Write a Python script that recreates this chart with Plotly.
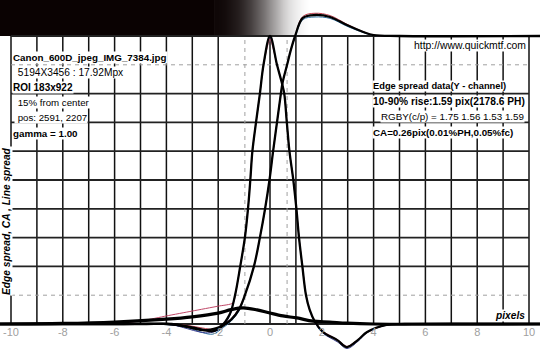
import plotly.graph_objects as go

# ---------------- data ----------------
# Edge spread function (Y channel)
esf_x = [-10.5, -6.0, -4.0, -3.2, -2.6, -2.2, -1.8, -1.5, -1.2, -0.97, -0.62, -0.39, -0.19, -0.02,
         0.12, 0.27, 0.42, 0.49, 0.66, 0.8, 0.97, 1.27, 1.74, 2.32, 2.97, 3.6, 4.0, 5.0, 10.5]
esf_y = [0.0, 0.0, 0.0, -0.008, -0.02, -0.025, -0.005, 0.015, 0.05, 0.10, 0.20, 0.30, 0.40, 0.50,
         0.60, 0.70, 0.80, 0.84, 0.90, 0.95, 1.0, 1.063, 1.073, 1.066, 1.038, 1.014, 1.003, 1.0, 1.0]
esf_r_y = [0.0, 0.0, 0.0, -0.005, -0.014, -0.018, -0.002, 0.018, 0.055, 0.10, 0.20, 0.30, 0.40, 0.50,
           0.60, 0.70, 0.80, 0.84, 0.90, 0.95, 1.0, 1.068, 1.079, 1.071, 1.041, 1.015, 1.003, 1.0, 1.0]
esf_b_y = [0.0, 0.0, -0.002, -0.012, -0.03, -0.035, -0.012, 0.01, 0.045, 0.10, 0.20, 0.30, 0.40, 0.50,
           0.60, 0.70, 0.80, 0.84, 0.90, 0.95, 0.995, 1.057, 1.066, 1.061, 1.034, 1.012, 1.002, 1.0, 1.0]

# Line spread function (Y channel)
lsf_x = [-10.5, -5.0, -3.8, -3.2, -2.7, -2.3, -1.9, -1.55, -1.35, -1.15, -0.97, -0.85, -0.76, -0.68,
         -0.54, -0.39, -0.25, 0.0, 0.27, 0.45, 0.55, 0.65, 0.75, 0.9, 1.02, 1.12, 1.25, 1.39, 1.53,
         1.74, 2.05, 2.6, 2.97, 3.4, 3.75, 4.5, 5.2, 10.5]
lsf_y = [0.0, 0.0, 0.0, -0.01, -0.02, -0.02, -0.008, 0.035, 0.10, 0.20, 0.30, 0.40, 0.50, 0.60,
         0.70, 0.80, 0.90, 1.0, 0.90, 0.84, 0.80, 0.70, 0.60, 0.50, 0.40, 0.30, 0.20, 0.10, 0.05,
         0.007, -0.028, -0.056, -0.08, -0.055, -0.028, -0.003, 0.0, 0.0]
lsf_b_y = [0.0, 0.0, -0.003, -0.016, -0.028, -0.03, -0.015, 0.03, 0.10, 0.20, 0.30, 0.40, 0.50, 0.60,
           0.70, 0.80, 0.90, 0.995, 0.90, 0.84, 0.80, 0.70, 0.60, 0.50, 0.40, 0.30, 0.20, 0.10, 0.05,
           0.004, -0.032, -0.062, -0.085, -0.06, -0.03, -0.004, 0.0, 0.0]

# Red channel line spread (with its long left tail)
lsf_r_x = [-10.5, -6.0, -4.9, -4.0, -3.0, -2.0, -1.43, -1.3, -1.15, -0.97, -0.85, -0.76, -0.68,
           -0.54, -0.39, -0.25, 0.0, 0.27, 0.45, 0.55, 0.65, 0.75, 0.9, 1.02, 1.12, 1.25, 1.39,
           1.53, 1.74, 2.05, 2.6, 2.97, 3.4, 3.75, 4.5, 5.2, 10.5]
lsf_r_y = [0.0, 0.0, 0.012, 0.028, 0.045, 0.062, 0.073, 0.12, 0.20, 0.30, 0.40, 0.50, 0.60,
           0.70, 0.80, 0.90, 0.99, 0.90, 0.84, 0.80, 0.70, 0.60, 0.50, 0.40, 0.30, 0.20, 0.10,
           0.05, 0.006, -0.026, -0.054, -0.078, -0.054, -0.027, -0.003, 0.0, 0.0]

# Chromatic aberration curve
ca_x = [-10.5, -8.0, -6.0, -4.0, -3.0, -2.0, -1.5, -1.04, -0.5, 0.0, 0.5, 1.04, 1.66, 2.3, 2.97, 4.0, 10.5]
ca_y = [0.0, 0.002, 0.007, 0.017, 0.025, 0.038, 0.05, 0.056, 0.049, 0.038, 0.028, 0.021, 0.01, 0.007,
        0.003, 0.0, 0.0]

# Edge image strip (brightness across the edge)
band_x = [-2.0, -1.75, -1.5, -1.25, -1.0, -0.75, -0.5, -0.25, 0.0, 0.25, 0.5, 0.75, 1.0, 1.25, 1.5]
band_level = [0.02, 0.04, 0.07, 0.11, 0.17, 0.25, 0.34, 0.45, 0.56, 0.68, 0.79, 0.87, 0.93, 0.97, 1.0]

tick_vals = [-10, -8, -6, -4, -2, 0, 2, 4, 6, 8, 10]
tick_labels = ["-10", "-8", "-6", "-4", "-2", "0", "2", "4", "6", "8", "10"]

grid_x = [-10, -9, -8, -7, -6, -5, -4, -3, -2, 0, 1, 2, 3, 4, 5, 6, 7, 8, 9, 10]
grid_y = [0.0, 0.2, 0.3, 0.4, 0.5, 0.6, 0.7, 0.8, 1.0]
dash_y = [0.1, 0.9]
dash_x = [-0.97, 0.66]

left_texts = [
    ("<b>Canon_600D_jpeg_IMG_7384.jpg</b>", 12, 57, 9.8),
    (" 5194X3456 : 17.92Mpx", 14, 72, 10.2),
    ("<b>ROI 183x922</b>", 12, 87, 10.0),
    (" 15% from center", 14, 102, 9.7),
    (" pos: 2591, 2207", 14, 117, 9.7),
    ("<b>gamma = 1.00</b>", 12, 133, 9.8),
]
right_texts = [
    ("<b>Edge spread data(Y - channel)</b>", 372, 86, 9.3),
    ("<b>10-90% rise:1.59 pix(2178.6 PH)</b>", 372, 101, 10.2),
    ("RGBY(c/p) = 1.75 1.56 1.53 1.59", 380, 116, 9.8),
    ("<b>CA=0.26pix(0.01%PH,0.05%fc)</b>", 372, 132, 9.8),
]

# ---------------- figure ----------------
PXU = 25.9      # pixels per x unit
X0 = 270        # pixel of x = 0
PYU = 288       # pixels per y unit
Y0 = 324        # pixel of y = 0


def dx(px):
    return (px - X0) / PXU


def dy(py):
    return (Y0 - py) / PYU


FONT = "Arial, Liberation Sans, sans-serif"

fig = go.Figure()

fig.add_trace(go.Heatmap(
    x=band_x, y=[1.035, 1.105], z=[band_level, band_level],
    colorscale=[[0, "#0a0202"], [1, "#ffffff"]], zmin=0, zmax=1,
    zsmooth="best", showscale=False, hoverinfo="skip"))

shapes = []
shapes.append(dict(type="rect", xref="x", yref="y", x0=-10.6, x1=-2.125, y0=1.0, y1=1.2,
                   fillcolor="#0a0202", line=dict(width=0), layer="below"))
for gx in grid_x:
    shapes.append(dict(type="line", xref="x", yref="y", x0=gx, x1=gx, y0=0, y1=1,
                       line=dict(color="#111111", width=1.5), layer="below"))
for gy in grid_y:
    shapes.append(dict(type="line", xref="x", yref="y", x0=-10, x1=10, y0=gy, y1=gy,
                       line=dict(color="#222222", width=1.8), layer="below"))
for gy in dash_y:
    shapes.append(dict(type="line", xref="x", yref="y", x0=-10, x1=10, y0=gy, y1=gy,
                       line=dict(color="#a0a0a0", width=1, dash="4px,4px"), layer="below"))
for gx in dash_x:
    shapes.append(dict(type="line", xref="x", yref="y", x0=gx, x1=gx, y0=0, y1=1,
                       line=dict(color="#a0a0a0", width=1, dash="4px,4px"), layer="below"))

# top line above the strip
fig.add_trace(go.Scatter(x=[-10, 10], y=[1.0, 1.0], mode="lines",
                         line=dict(color="#222222", width=1.8), hoverinfo="skip"))

# thin colour channel curves (under the black ones)
fig.add_trace(go.Scatter(x=esf_x, y=esf_b_y, mode="lines",
                         line=dict(color="#2f6f9f", width=1, shape="spline"), hoverinfo="skip"))
fig.add_trace(go.Scatter(x=lsf_x, y=lsf_b_y, mode="lines",
                         line=dict(color="#3a3f8f", width=1, shape="spline"), hoverinfo="skip"))
fig.add_trace(go.Scatter(x=esf_x, y=esf_r_y, mode="lines",
                         line=dict(color="#c04050", width=1, shape="spline"), hoverinfo="skip"))
fig.add_trace(go.Scatter(x=lsf_r_x, y=lsf_r_y, mode="lines",
                         line=dict(color="#c04868", width=1, shape="spline", smoothing=0.6),
                         hoverinfo="skip"))

# main black curves
fig.add_trace(go.Scatter(x=ca_x, y=ca_y, mode="lines", line=dict(color="#000000", width=3.2, shape="spline"),
                         hoverinfo="skip"))
fig.add_trace(go.Scatter(x=lsf_x, y=lsf_y, mode="lines", line=dict(color="#000000", width=2.3, shape="spline"),
                         hoverinfo="skip"))
fig.add_trace(go.Scatter(x=esf_x, y=esf_y, mode="lines", line=dict(color="#000000", width=2.3, shape="spline"),
                         hoverinfo="skip"))

# tick labels
fig.add_trace(go.Scatter(x=tick_vals, y=[dy(333)] * len(tick_vals), mode="text", text=tick_labels,
                         textposition="middle center",
                         textfont=dict(family=FONT, size=11, color="#a0a0a0"), hoverinfo="skip"))

annotations = []
for txt, px, py, fs in left_texts + right_texts:
    annotations.append(dict(x=dx(px), y=dy(py), xref="x", yref="y", text=txt, showarrow=False,
                            xanchor="left", yanchor="middle", bgcolor="#ffffff", borderpad=0,
                            font=dict(family=FONT, size=fs, color="#000000")))
annotations.append(dict(x=dx(527), y=dy(45), xref="x", yref="y", text="http://www.quickmtf.com",
                        showarrow=False, xanchor="right", yanchor="middle", bgcolor="#ffffff",
                        borderpad=0, font=dict(family=FONT, size=10.4, color="#000000")))
annotations.append(dict(x=dx(526), y=dy(315), xref="x", yref="y", text="<b><i>pixels</i></b>",
                        showarrow=False, xanchor="right", yanchor="middle", bgcolor="#ffffff",
                        borderpad=0, font=dict(family=FONT, size=10.2, color="#000000")))
annotations.append(dict(x=dx(6), y=dy(221), xref="x", yref="y",
                        text="<b><i>Edge spread, CA , Line spread</i></b>", textangle=-90,
                        showarrow=False, xanchor="center", yanchor="middle", bgcolor="#ffffff",
                        borderpad=0, font=dict(family=FONT, size=10.2, color="#000000")))

fig.update_layout(
    width=540, height=360,
    margin=dict(l=0, r=0, t=0, b=0),
    paper_bgcolor="#ffffff", plot_bgcolor="#ffffff",
    showlegend=False,
    hovermode=False,
    xaxis=dict(range=[dx(0), dx(540)], showgrid=False, zeroline=False, showticklabels=False,
               showline=False, ticks="", fixedrange=True),
    yaxis=dict(range=[dy(360), dy(0)], showgrid=False, zeroline=False, showticklabels=False,
               showline=False, ticks="", fixedrange=True),
    shapes=shapes,
    annotations=annotations,
)

fig.write_html("out.html", config={"displayModeBar": False},
               post_script="document.body.style.margin='0';")
